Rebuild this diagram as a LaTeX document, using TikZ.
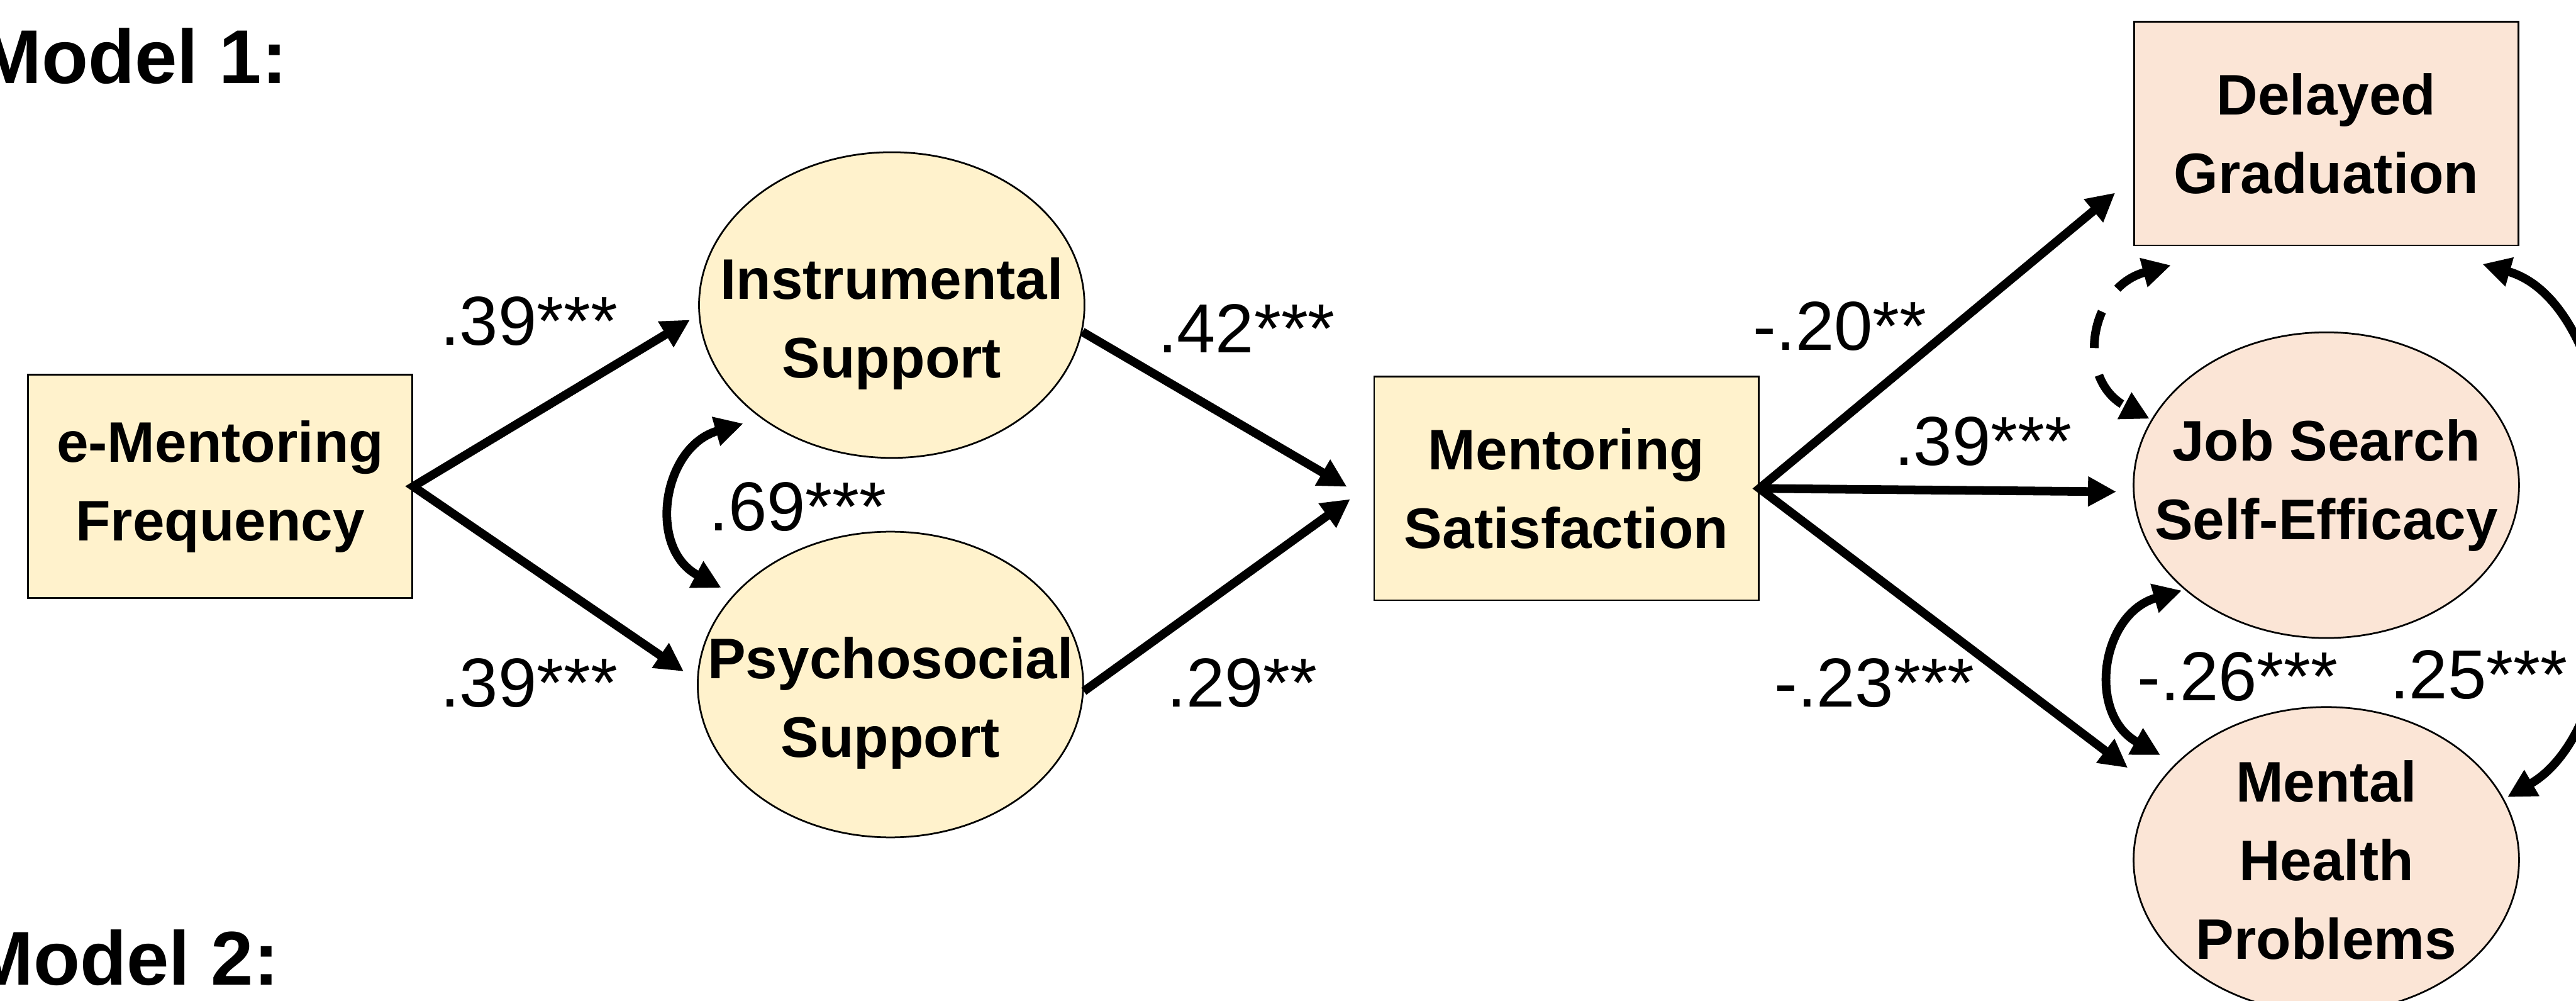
\documentclass[tikz,border=0pt]{standalone}
\usepackage{fontspec}
\setmainfont{Liberation Sans}
\usepackage{tikz}
\usetikzlibrary{arrows.meta,shapes.geometric}
\definecolor{yel}{HTML}{FFF2CC}
\definecolor{pch}{HTML}{FBE5D6}
\newcommand{\varfnt}{\fontsize{9.9}{13.6}\selectfont\bfseries}
\newcommand{\coefnt}{\fontsize{12}{14}\selectfont}
\newcommand{\modfnt}{\fontsize{13.2}{16}\selectfont\bfseries}
\newcommand{\zw}[1]{\makebox[0pt]{#1}}

\begin{document}
\begin{tikzpicture}[
	box/.style={draw,line width=0.3pt,minimum width=2.34cm,minimum height=1.36cm,inner sep=0pt,align=center,font=\varfnt},
	ell/.style={ellipse,draw,line width=0.3pt,minimum width=2.346cm,minimum height=1.86cm,inner sep=0pt,align=center,font=\varfnt},
	arr/.style={line width=1.5pt,-{Triangle[length=4.9pt,width=4.9pt]}},
	dbl/.style={line width=1.5pt,{Triangle[length=4.9pt,width=4.9pt]}-{Triangle[length=4.9pt,width=4.9pt]}},
	coef/.style={anchor=base,inner sep=0pt,font=\coefnt}]
			\clip (0,0) rectangle (15.68,6.09);
			\node[anchor=base west,inner sep=0pt,font=\modfnt] (m1) at (-0.14,5.583) {Model 1:};
			\node[anchor=base west,inner sep=0pt,font=\modfnt] (m2) at (-0.19,0.098) {Model 2:};
			\node[box,fill=yel] (emf) at (1.34,3.13) {e-Mentoring\\Frequency};
			\node[ell,fill=yel] (inst) at (5.428,4.234) {\\ \zw{Instrumental}\\ \zw{Support}};
			\node[ell,fill=yel] (psy) at (5.42,1.925) {\\ \zw{Psychosocial}\\ \zw{Support}};
			\node[box,fill=yel] (ms) at (9.534,3.118) {Mentoring\\Satisfaction};
			\node[box,fill=pch] (dg) at (14.16,5.277) {Delayed\\Graduation};
			\node[ell,fill=pch] (jse) at (14.16,3.138) {\zw{Job Search}\\ \zw{Self-Efficacy}};
			\node[ell,fill=pch] (mhp) at (14.16,0.858) {\zw{Mental}\\ \zw{Health}\\ \zw{Problems}};
			\draw[dbl] ([shift={(-0.05,-0.09)}]inst.west) -- (emf.east) -- ([shift={(-0.08,0.08)}]psy.west);
			\draw[arr] (inst.-8) -- ([shift={(-0.16,0.01)}]ms.west);
			\draw[arr] (psy.-2) -- ([shift={(-0.14,-0.065)}]ms.west);
			\draw[dbl] ([shift={(-0.11,-0.36)}]dg.west) -- (ms.east) -- ([shift={(-0.03,0.56)}]mhp.west);
			\draw[arr] (ms.east) -- ([shift={(-0.1,-0.04)}]jse.west);
			\draw[dbl] ([shift={(-0.904,-0.721)}]inst.center) to[out=196,in=152,looseness=1.3] ([shift={(-1.03,0.589)}]psy.center);
			\draw[dbl] ([shift={(-0.88,-0.641)}]jse.center) to[out=196,in=151,looseness=1.3] ([shift={(-1.01,0.638)}]mhp.center);
			\draw[dbl,dash pattern=on 6.5pt off 4.8pt,dash phase=0.8pt] ([shift={(-0.946,-0.801)}]dg.center) to[out=195,in=152.5,looseness=1.4] ([shift={(-1.076,0.404)}]jse.center);
			\draw[dbl] ([shift={(0.95,-0.794)}]dg.center) to[out=-16,in=30,looseness=0.8] ([shift={(1.102,0.382)}]mhp.center);
			\node[coef] (c1) at (3.22,3.99) {.39***};
			\node[coef] (c2) at (3.22,1.79) {.39***};
			\node[coef] (c3) at (4.855,2.862) {.69***};
			\node[coef] (c4) at (7.587,3.945) {.42***};
			\node[coef] (c5) at (7.56,1.79) {.29**};
			\node[coef] (c6) at (11.2,3.96) {-.20**};
			\node[coef] (c7) at (12.07,3.26) {.39***};
			\node[coef] (c8) at (11.41,1.79) {-.23***};
			\node[coef] (c9) at (13.62,1.827) {-.26***};
			\node[coef] (c10) at (15.087,1.837) {.25***};
		\end{tikzpicture}
\end{document}
